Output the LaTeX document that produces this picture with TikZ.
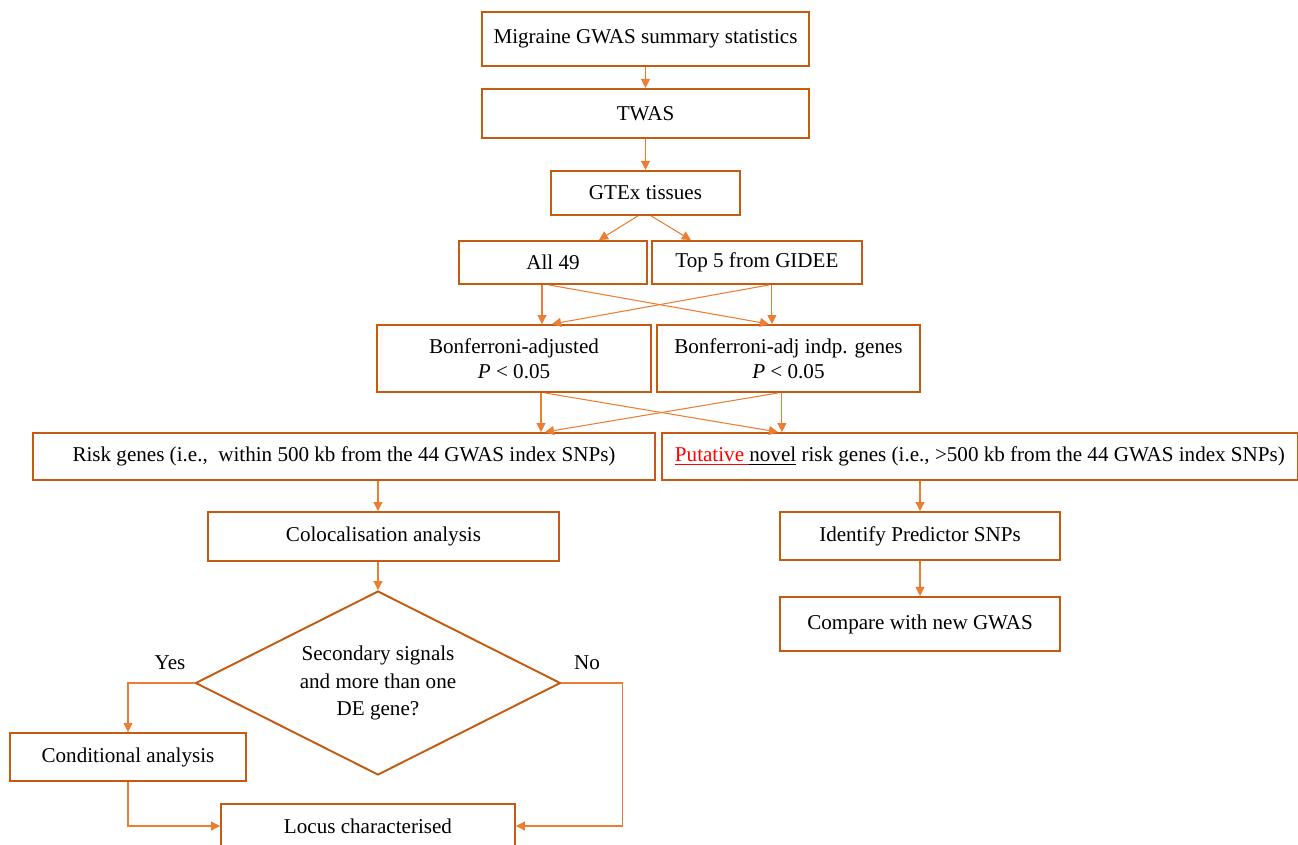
\documentclass[tikz,border=0pt]{standalone}
\usepackage{fontspec}
\setmainfont{Liberation Serif}
\usepackage{amsmath}
\usetikzlibrary{arrows.meta,shapes.geometric,positioning}
\definecolor{boxorange}{HTML}{C55A11}
\definecolor{arrorange}{HTML}{ED7D31}

\begin{document}
\begin{tikzpicture}[
    box/.style={draw=boxorange, line width=1.1pt, inner sep=2pt, align=center, font=\fontsize{12}{14.5}\selectfont},
    arr/.style={draw=arrorange, line width=0.6pt, -{Triangle[length=1.8mm,width=1.8mm]}},
    lbl/.style={font=\fontsize{12}{14.5}\selectfont}
  ]
  \useasboundingbox (0,0) rectangle (25.96,-16.88);
  \node[box, minimum width=6.54cm, minimum height=1.08cm] (mig) at (12.91,-0.78) {Migraine GWAS summary statistics};
  \node[box, minimum width=6.54cm, minimum height=0.98cm, below=0.42cm of mig] (twas) {TWAS};
  \node[box, minimum width=3.78cm, minimum height=0.88cm, below=0.62cm of twas] (gtex) {GTEx tissues};
  \node[box, minimum width=3.76cm, minimum height=0.86cm] (all) at (11.06,-5.25) {All 49};
  \node[box, minimum width=4.2cm, minimum height=0.86cm, right=0.06cm of all] (top) {Top 5 from GIDEE};
  \node[box, minimum width=5.48cm, minimum height=1.34cm] (bonf) at (10.28,-7.17) {Bonferroni-adjusted\\ \textit{P} < 0.05};
  \node[box, minimum width=5.26cm, minimum height=1.34cm, right=0.08cm of bonf] (bonfi) {Bonferroni-adj indp. genes\\ \textit{P} < 0.05};
  \node[box, minimum width=12.44cm, minimum height=0.94cm] (risk) at (6.88,-9.13) {Risk genes (i.e.,\ \ within 500 kb from the 44 GWAS index SNPs)};
  \node[box, minimum width=12.72cm, minimum height=0.94cm, right=0.1cm of risk] (novel) {\textcolor{red}{\underline{Putative\ }}\underline{novel} risk genes (i.e., >500 kb from the 44 GWAS index SNPs)};
  \node[box, minimum width=7.02cm, minimum height=0.98cm] (coloc) at (7.67,-10.73) {Colocalisation analysis};
  \node[box, minimum width=5.6cm, minimum height=0.96cm] (pred) at (18.4,-10.72) {Identify Predictor SNPs};
  \node[box, minimum width=5.6cm, minimum height=1.08cm, below=0.7cm of pred] (comp) {Compare with new GWAS};
  \node[box, diamond, aspect=2, inner sep=0pt, minimum width=7.3cm, minimum height=3.68cm, font=\fontsize{12}{15.5}\selectfont] (dec) at (7.56,-13.66) {Secondary signals\\ and more than one\\ DE gene?};
  \node[box, minimum width=4.72cm, minimum height=0.96cm] (cond) at (2.56,-15.14) {Conditional analysis};
  \node[box, minimum width=5.88cm, minimum height=0.88cm] (locus) at (7.36,-16.52) {Locus characterised};
  \node[lbl] (yes) at (3.4,-13.26) {Yes};
  \node[lbl] (no) at (11.74,-13.26) {No};
  \draw[arr] (mig) -- (twas);
  \draw[arr] (twas) -- (gtex);
  \draw[arr] ([xshift=-0.15cm]gtex.south) -- ([xshift=0.92cm]all.north);
  \draw[arr] ([xshift=0.11cm]gtex.south) -- ([xshift=-1.32cm]top.north);
  \draw[arr] ([xshift=-0.22cm]all.south) -- ([xshift=-0.22cm]all.south |- bonf.north);
  \draw[arr] ([xshift=-0.08cm]all.south) -- ([xshift=-0.39cm]bonfi.north);
  \draw[arr] ([xshift=0.3cm]top.south) -- ([xshift=0.3cm]top.south |- bonfi.north);
  \draw[arr] ([xshift=0.24cm]top.south) -- ([xshift=0.76cm]bonf.north);
  \draw[arr] ([xshift=0.54cm]bonf.south) -- ([xshift=0.54cm]bonf.south |- risk.north);
  \draw[arr] ([xshift=0.62cm]bonf.south) -- ([xshift=-0.21cm]bonfi.south |- novel.north);
  \draw[arr] ([xshift=-0.13cm]bonfi.south) -- ([xshift=-0.13cm]bonfi.south |- novel.north);
  \draw[arr] ([xshift=-0.21cm]bonfi.south) -- ([xshift=0.62cm]bonf.south |- risk.north);
  \draw[arr] (risk.south -| dec) -- (coloc.north -| dec);
  \draw[arr] (coloc.south -| dec) -- (dec.north);
  \draw[arr] (novel.south -| pred) -- (pred.north);
  \draw[arr] (pred.south -| comp) -- (comp.north);
  \draw[arr] (dec.west) -| (cond.north);
  \draw[arr] (dec.east) -- ++(1.22,0) |- (locus.east);
  \draw[arr] (cond.south) |- (locus.west);
\end{tikzpicture}
\end{document}
